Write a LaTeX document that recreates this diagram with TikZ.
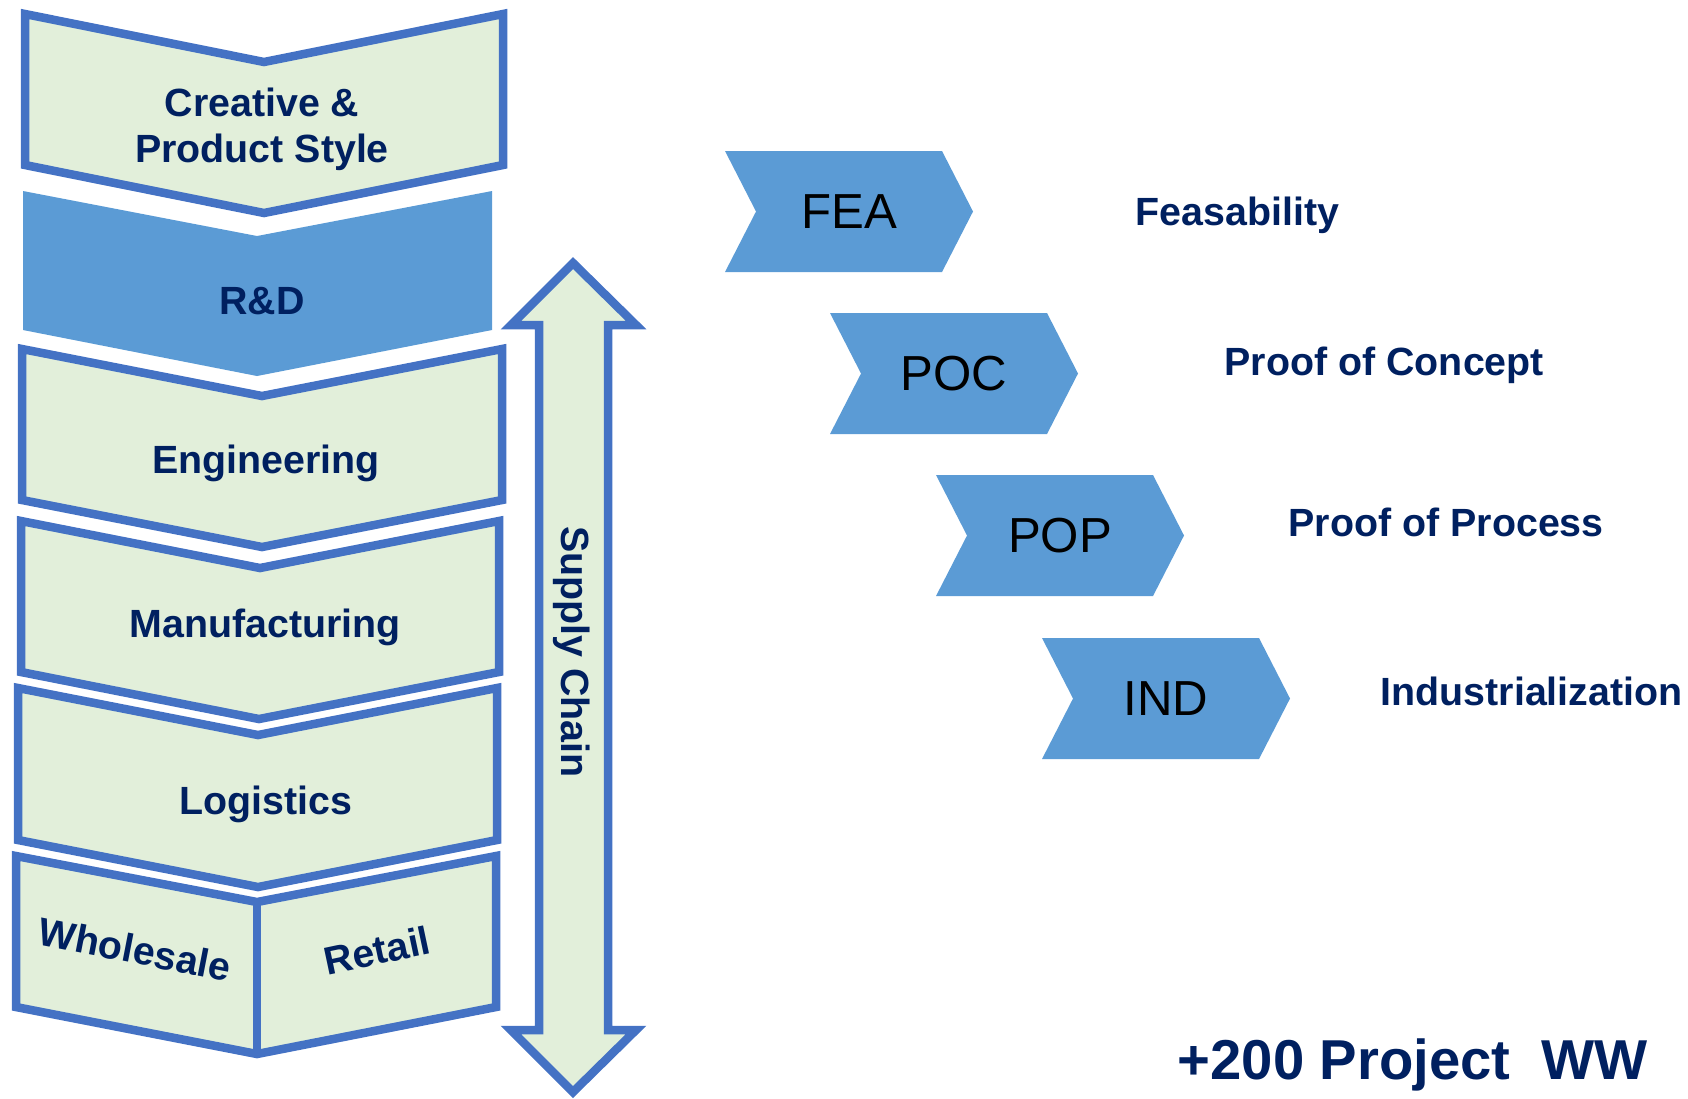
\documentclass[tikz,border=0pt]{standalone}
\usepackage{fontspec}
\setmainfont{Liberation Sans}
\usepackage{tikz}
\definecolor{stagegreen}{HTML}{E2EFDA}
\definecolor{stageblue}{HTML}{4472C4}
\definecolor{phaseblue}{HTML}{5B9BD5}
\definecolor{navy}{HTML}{002060}

\begin{document}
\begin{tikzpicture}[x=0.1mm, y=-0.1mm,
    stage/.style={draw=stageblue, fill=stagegreen, line width=0.85mm},
    rdstage/.style={fill=phaseblue},
    phase/.style={fill=phaseblue},
    word/.style={text=navy, font=\fontsize{11.2}{13.1}\selectfont\bfseries, inner sep=0pt},
    lbl/.style={word, text height=8.2pt, text depth=0pt},
    code/.style={text=black, font=\fontsize{14}{16}\selectfont, text height=10.2pt, text depth=0pt, inner sep=0pt}]
    \useasboundingbox (0,0) rectangle (1688,1098);

    \draw[stage] (25,14) -- (264,62) -- (503,14) -- (503,165) -- (264,213) -- (25,165) -- cycle;
    \fill[rdstage] (23,191) -- (257,236) -- (492,191) -- (492,330) -- (257,376) -- (23,330) -- cycle;
    \draw[stage] (22,349) -- (262,396) -- (502,349) -- (502,500) -- (262,547) -- (22,500) -- cycle;
    \draw[stage] (21,521) -- (260,568) -- (499,521) -- (499,672) -- (259,719) -- (21,672) -- cycle;
    \draw[stage] (18,688) -- (258,735) -- (497,688) -- (497,840) -- (258,887) -- (18,840) -- cycle;
    \draw[stage] (16,856) -- (257,902) -- (496,856) -- (496,1007) -- (257,1054) -- (16,1007) -- cycle;
    \draw[stage] (257,902) -- (257,1054);

    \draw[stage] (573,263) -- (636,325) -- (608,325) -- (608,1030) -- (636,1030) -- (573,1092)
        -- (511,1030) -- (539,1030) -- (539,325) -- (511,325) -- cycle;

    \node[word, align=center] (creative) at (262,129) {Creative \&\\Product Style};
    \node[lbl] (rd) at (262,300) {R\&D};
    \node[lbl] (engineering) at (266,459) {Engineering};
    \node[lbl] (manufacturing) at (265,623) {Manufacturing};
    \node[lbl] (logistics) at (266,800) {Logistics};
    \node[lbl, rotate=-11] (wholesale) at (135,949) {Wholesale};
    \node[lbl, rotate=12] (retail) at (377,950) {Retail};
    \node[lbl, rotate=-90] (supply) at (576,652) {Supply Chain};

    \foreach \x/\y/\abbr in {725/151/FEA, 830/313/POC, 936/475/POP, 1042/638/IND}{
        \fill[phase] (\x,\y) -- ++(217,0) -- ++(31,60.5) -- ++(-31,60.5) -- ++(-217,0) -- ++(31,-60.5) -- cycle;
        \node[code] (\abbr) at (\x+124,\y+60) {\abbr};
    }

    \node[lbl, anchor=west] (feas) at (1135,211) {Feasability};
    \node[lbl, anchor=west] (concept) at (1224,361) {Proof of Concept};
    \node[lbl, anchor=west] (process) at (1288,522) {Proof of Process};
    \node[lbl, anchor=west] (indus) at (1380,691) {Industrialization};
    \node[word, font=\fontsize{16}{19}\selectfont\bfseries, text height=11.7pt, text depth=0pt, anchor=west] (projects) at (1177,1059) {+200 Project~~WW};

\end{tikzpicture}
\end{document}
